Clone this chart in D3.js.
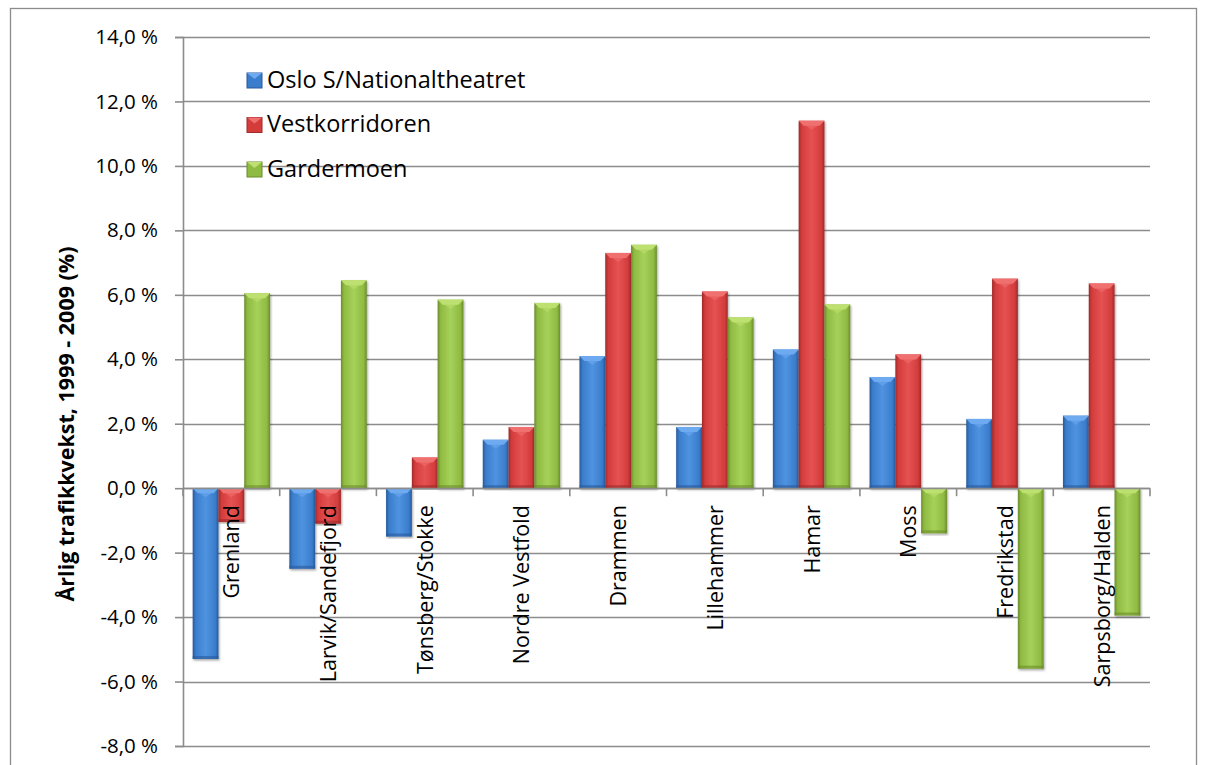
<!DOCTYPE html>
<html>
<head>
<meta charset="utf-8">
<script src="https://cdn.jsdelivr.net/npm/d3@7"></script>
<style>
  body { margin: 0; background: #fff; }
  text { font-family: 'Open Sans', sans-serif; fill: #000; }
</style>
</head>
<body>
<script>
const W = 1205
const H = 765

// data
const categories = ['Grenland', 'Larvik/Sandefjord', 'Tønsberg/Stokke', 'Nordre Vestfold', 'Drammen',
  'Lillehammer', 'Hamar', 'Moss', 'Fredrikstad', 'Sarpsborg/Halden']
const seriesNames = ['Oslo S/Nationaltheatret', 'Vestkorridoren', 'Gardermoen']
const oslo = [-5.3, -2.5, -1.5, 1.5, 4.1, 1.9, 4.3, 3.45, 2.15, 2.25]
const vest = [-1.05, -1.1, 0.95, 1.9, 7.3, 6.1, 11.4, 4.15, 6.5, 6.35]
const garder = [6.05, 6.45, 5.85, 5.75, 7.55, 5.3, 5.7, -1.4, -5.6, -3.95]
const yTicks = [-8, -6, -4, -2, 0, 2, 4, 6, 8, 10, 12, 14]

const seriesValues = [oslo, vest, garder]
const colors = [
  { light: '#4f93e0', mid: '#3a7dcc', dark: '#28599a', top: '#6eaaf0' },
  { light: '#e55252', mid: '#d43c3c', dark: '#9e2a2a', top: '#f07070' },
  { light: '#a6d15a', mid: '#90bb42', dark: '#6b8c2c', top: '#bde070' }
]

const plot = { left: 183, right: 1150, top: 37, bottom: 746 }

const svg = d3.select('body').append('svg')
  .attr('width', W)
  .attr('height', H)

// gradients for the bevel look
const defs = svg.append('defs')
colors.forEach((c, i) => {
  const g = defs.append('linearGradient').attr('id', 'g' + i)
    .attr('x1', '0').attr('x2', '1').attr('y1', '0').attr('y2', '0')
  g.append('stop').attr('offset', '0').attr('stop-color', c.dark)
  g.append('stop').attr('offset', '0.12').attr('stop-color', c.mid)
  g.append('stop').attr('offset', '0.5').attr('stop-color', c.light)
  g.append('stop').attr('offset', '0.88').attr('stop-color', c.mid)
  g.append('stop').attr('offset', '1').attr('stop-color', c.dark)
})
const shadow = defs.append('filter').attr('id', 'shadow')
  .attr('x', '-20%').attr('y', '-5%').attr('width', '140%').attr('height', '110%')
shadow.append('feDropShadow').attr('dx', 1).attr('dy', 1.5).attr('stdDeviation', 1.2)
  .attr('flood-color', '#000').attr('flood-opacity', 0.35)

// outer border
svg.append('rect')
  .attr('x', 10.5).attr('y', 8.5)
  .attr('width', 1186).attr('height', 770)
  .attr('fill', 'none').attr('stroke', '#8c8c8c').attr('stroke-width', 1.3)

const x = d3.scaleBand()
  .domain(categories)
  .range([plot.left, plot.right])
  .paddingInner(0.2)
  .paddingOuter(0.1)

const x1 = d3.scaleBand()
  .domain(d3.range(seriesNames.length))
  .range([0, x.bandwidth()])

const y = d3.scaleLinear()
  .domain([-8, 14])
  .range([plot.bottom, plot.top])

const loc = d3.formatLocale({ decimal: ',', thousands: ' ', grouping: [3], currency: ['', ''], minus: '-' })
const fmt = loc.format('.1f')

// gridlines
svg.append('g').selectAll('line')
  .data(yTicks)
  .enter()
  .append('line')
  .attr('x1', plot.left)
  .attr('x2', plot.right)
  .attr('y1', d => Math.round(y(d)) + 0.5)
  .attr('y2', d => Math.round(y(d)) + 0.5)
  .attr('stroke', '#8c8c8c')
  .attr('stroke-width', 1.6)

// y axis
const yAxis = svg.append('g')
  .attr('transform', `translate(${plot.left},0)`)
  .call(d3.axisLeft(y).tickValues(yTicks).tickSize(8).tickFormat(d => fmt(d) + ' %'))
yAxis.select('.domain').attr('stroke', '#8c8c8c').attr('stroke-width', 1.6)
yAxis.selectAll('.tick line').attr('stroke', '#8c8c8c').attr('stroke-width', 1.6)
yAxis.selectAll('.tick text')
  .attr('x', -25)
  .style('font-family', "'Open Sans', sans-serif")
  .style('font-size', '20.5px')
  .attr('fill', '#000')

// bars
const groups = svg.append('g').selectAll('g')
  .data(categories)
  .enter()
  .append('g')
  .attr('transform', d => `translate(${x(d)},0)`)

const bars = groups.selectAll('g.bar')
  .data((d, ci) => seriesValues.map((s, si) => ({ si, v: s[ci] })))
  .enter()
  .append('g')
  .attr('class', 'bar')
  .attr('filter', 'url(#shadow)')

bars.each(function (d) {
  const g = d3.select(this)
  const bx = x1(d.si)
  const bw = x1.bandwidth()
  const y0 = y(Math.max(0, d.v))
  const y1 = y(Math.min(0, d.v))
  const c = colors[d.si]
  g.append('rect')
    .attr('x', bx).attr('y', y0)
    .attr('width', bw).attr('height', y1 - y0)
    .attr('fill', 'url(#g' + d.si + ')')
  const b = Math.min(5, (y1 - y0) / 2)
  // top bevel
  g.append('path')
    .attr('d', `M${bx},${y0}L${bx + bw},${y0}L${bx + bw - b},${y0 + b}L${bx + b},${y0 + b}Z`)
    .attr('fill', c.top)
  g.append('path')
    .attr('d', `M${bx},${y0}L${bx + bw / 2},${y0 + Math.min(9, (y1 - y0))}L${bx + bw},${y0}Z`)
    .attr('fill', c.top).attr('opacity', 0.55)
  // bottom edge
  g.append('rect')
    .attr('x', bx).attr('y', y1 - Math.min(3, (y1 - y0) / 3))
    .attr('width', bw).attr('height', Math.min(3, (y1 - y0) / 3))
    .attr('fill', c.dark).attr('opacity', 0.6)
})

// x axis line at zero with ticks
svg.append('line')
  .attr('x1', plot.left).attr('x2', plot.right)
  .attr('y1', Math.round(y(0)) + 0.5).attr('y2', Math.round(y(0)) + 0.5)
  .attr('stroke', '#8c8c8c').attr('stroke-width', 1.6)
const step = x.step()
svg.append('g').selectAll('line')
  .data(d3.range(categories.length + 1))
  .enter()
  .append('line')
  .attr('x1', d => plot.left + d * step)
  .attr('x2', d => plot.left + d * step)
  .attr('y1', y(0))
  .attr('y2', y(0) + 8)
  .attr('stroke', '#8c8c8c').attr('stroke-width', 1.6)

// category labels
svg.append('g').selectAll('text')
  .data(categories)
  .enter()
  .append('text')
  .text(d => d)
  .attr('transform', d => `translate(${x(d) + x.bandwidth() / 2 + 8},${y(0) + 17}) rotate(-90)`)
  .attr('text-anchor', 'end')
  .style('font-size', '21.5px')

// y axis title
svg.append('text')
  .text('Årlig trafikkvekst, 1999 - 2009 (%)')
  .attr('transform', 'translate(74,424) rotate(-90)')
  .attr('text-anchor', 'middle')
  .style('font-size', '21.5px')
  .style('font-weight', 'bold')

// legend
const legend = svg.append('g').selectAll('g')
  .data(seriesNames)
  .enter()
  .append('g')
  .attr('transform', (d, i) => `translate(247,${73 + i * 44.5})`)
legend.append('rect')
  .attr('width', 15).attr('height', 15)
  .attr('fill', (d, i) => colors[i].mid)
  .attr('stroke', (d, i) => colors[i].dark)
legend.append('path')
  .attr('d', 'M0,0L15,0L7.5,6Z')
  .attr('fill', (d, i) => colors[i].top)
legend.append('text')
  .text(d => d)
  .attr('x', 20)
  .attr('y', 14.5)
  .style('font-size', '23.5px')
</script>
</body>
</html>
